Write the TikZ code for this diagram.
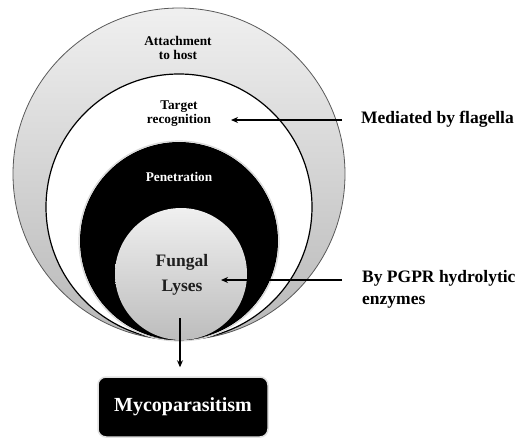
\documentclass[tikz,border=0pt]{standalone}
\usepackage{fontspec}
\setmainfont{Liberation Serif}
\usetikzlibrary{arrows.meta}
\begin{document}
\begin{tikzpicture}[x=1pt,y=-1pt,
  lbl/.style={font=\bfseries\fontsize{13.3}{14}\selectfont, align=center, inner sep=0pt},
  side/.style={font=\bfseries\fontsize{17.5}{22}\selectfont, align=left, anchor=west, inner sep=0pt},
  arr/.style={line width=1.3pt, -{Stealth[length=7pt,width=6pt]}}]
\useasboundingbox (0,0) rectangle (523,440);
% circles
\shade[top color=black!6, bottom color=black!28] (179,174) circle[radius=166];
\draw[black!65, line width=0.8pt] (179,174) circle[radius=166];
\fill[white] (179,207) circle[radius=133];
\draw[black, line width=1.2pt] (179,207) circle[radius=133];
\fill[black] (179,241) circle[radius=99];
\draw[black!15, line width=1.2pt] (179,241) circle[radius=100];
\shade[top color=black!6, bottom color=black!26] (181,274) circle[radius=66];
% labels
\node[lbl] (att) at (178,48) {Attachment\\to host};
\node[lbl] (tgt) at (179,113.5) {Target\\recognition};
\node[lbl, text=white] (pen) at (179,177) {Penetration};
\node[font=\bfseries\fontsize{17.5}{25}\selectfont, align=center, inner sep=0pt, text=black!88] (fun) at (182,274.5) {Fungal\\Lyses};
\node[side] (med) at (361,119) {Mediated by flagella};
\node[side] (pgpr) at (362,289) {By PGPR hydrolytic\\enzymes};
\node[draw=black!12, line width=1.5pt, fill=black, rounded corners=8pt, minimum width=170pt, minimum height=60pt, text=white, font=\bfseries\fontsize{20}{24}\selectfont] (myc) at (183,407) {Mycoparasitism};
% connectors
\coordinate (m1) at (342,120);
\coordinate (m2) at (231,120);
\coordinate (p1) at (342,280);
\coordinate (p2) at (221,280);
\coordinate (d1) at (180,318);
\path (myc.north -| d1) coordinate (d0);
\draw[arr] (m1) -- (m2);
\draw[arr] (p1) -- (p2);
\draw[arr] (d1) -- ([yshift=9pt]d0);
\end{tikzpicture}
\end{document}
